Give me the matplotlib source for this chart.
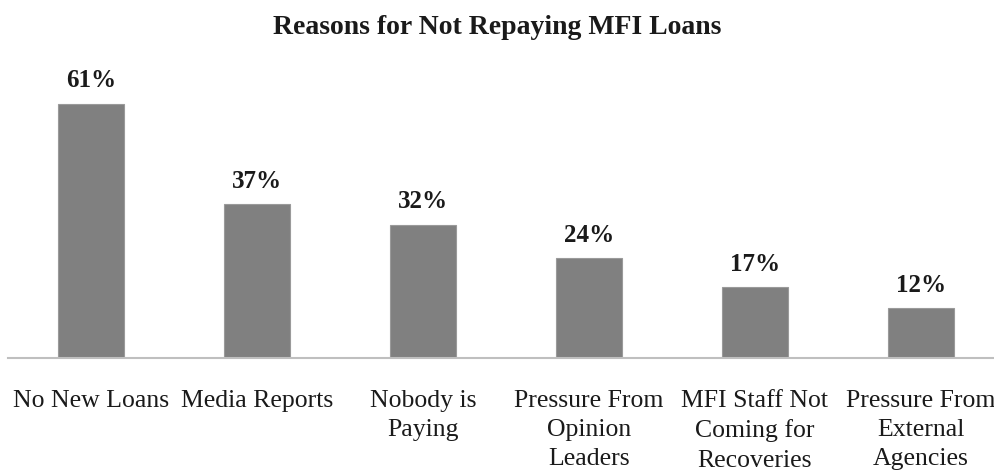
import matplotlib.pyplot as plt

# data
reasons = ['No New Loans', 'Media Reports', 'Nobody is\nPaying',
           'Pressure From\nOpinion\nLeaders', 'MFI Staff Not\nComing for\nRecoveries',
           'Pressure From\nExternal\nAgencies']
shares = [61, 37, 32, 24, 17, 12]

plt.rcParams['font.family'] = ['Liberation Serif', 'DejaVu Serif']

fig = plt.figure(figsize=(9.95, 4.7), dpi=100)
ax = fig.add_axes([8 / 995, 112 / 470, 996 / 995, 292 / 470])

x = range(len(reasons))
bars = ax.bar(x, shares, width=0.4, color='#808080', edgecolor='#9a9a9a', linewidth=0.8)

for b, v in zip(bars, shares):
    ax.annotate(f'{v}%', (b.get_x() + b.get_width() / 2, v), xytext=(0, 8),
                textcoords='offset points', ha='center', va='bottom',
                fontsize=18, fontweight='bold', color='#1a1a1a')

ax.set_xlim(-0.5, 5.5)
ax.set_ylim(0, 70)
ax.set_xticks(list(x))
ax.set_xticklabels(reasons, fontsize=18.5, color='#1a1a1a', linespacing=1.42)
ax.tick_params(axis='x', length=0, pad=23)
ax.set_yticks([])
for s in ['top', 'right', 'left']:
    ax.spines[s].set_visible(False)
ax.spines['bottom'].set_color('#bfbfbf')
ax.spines['bottom'].set_linewidth(1.5)

fig.text(0.5, 1 - 28 / 470, 'Reasons for Not Repaying MFI Loans', ha='center', va='center',
         fontsize=20, fontweight='bold', color='#1a1a1a')

fig.savefig('out.png', dpi=100)
